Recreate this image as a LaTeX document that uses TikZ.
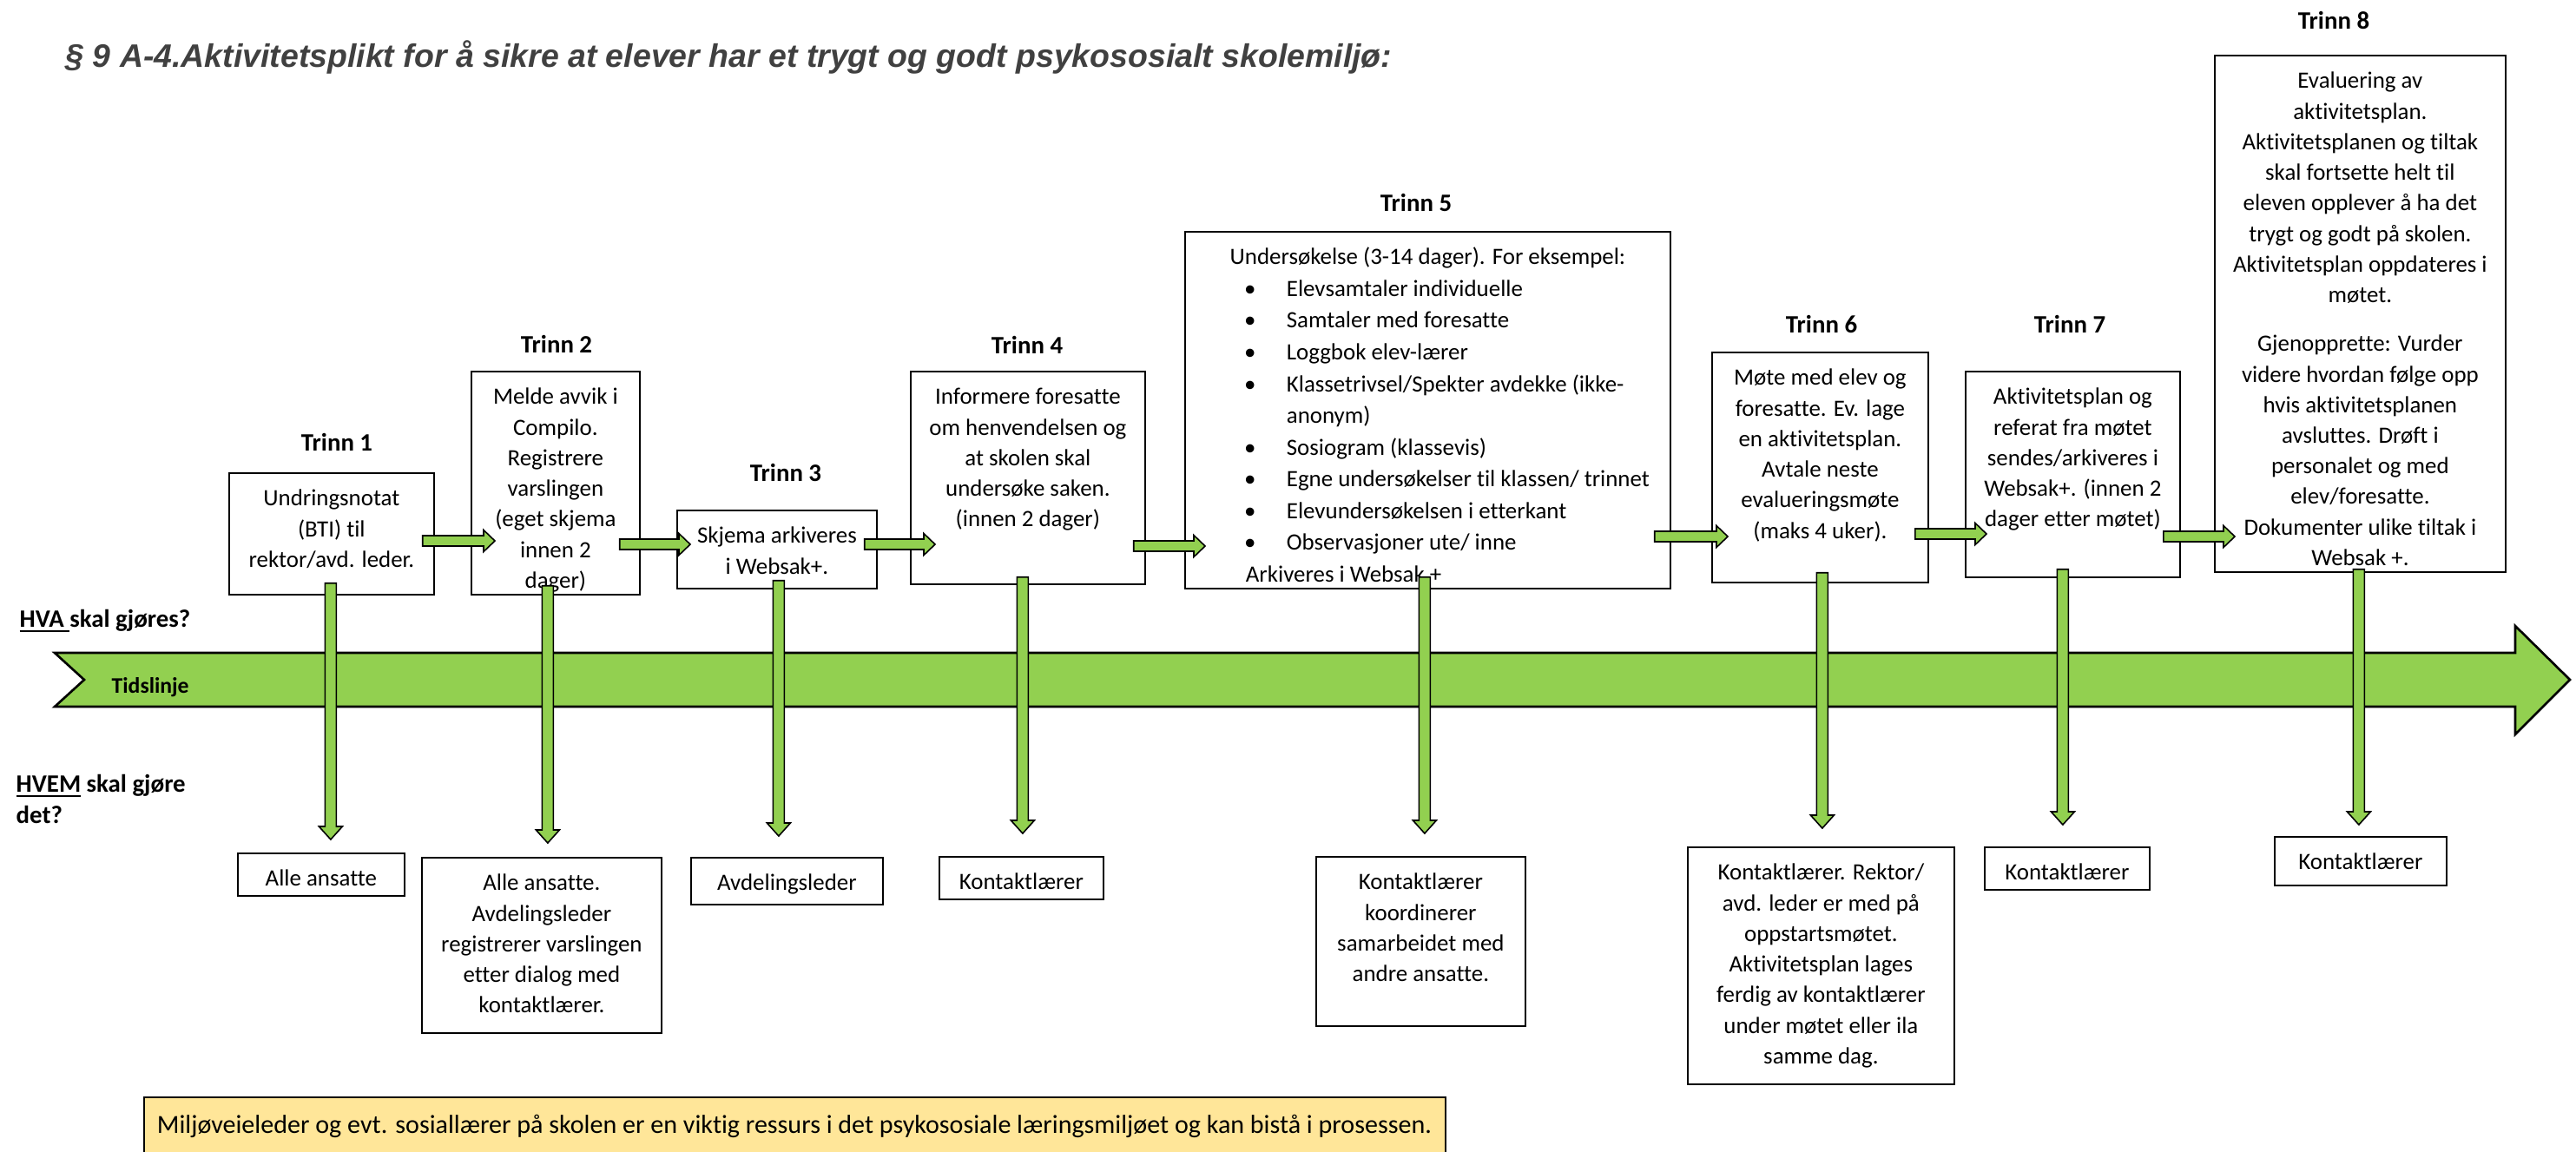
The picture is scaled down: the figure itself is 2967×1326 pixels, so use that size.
\documentclass[tikz,border=0pt]{standalone}
\usepackage{fontspec}
\setmainfont{Carlito}[Ligatures={TeX,NoCommon}]
\newfontfamily\titlefont{Liberation Sans}
\usetikzlibrary{calc}

\definecolor{tlgreen}{HTML}{92D050}
\definecolor{noteyellow}{HTML}{FFE699}
\definecolor{titlegray}{HTML}{404040}

% one drawing unit = 0.01cm
\newlength\pxu \setlength\pxu{0.01cm}
% top-aligned, centred text block of given width and height (in drawing units)
\newcommand\boxtext[3]{\parbox[c][#2\pxu][t]{#1\pxu}{\centering\rule{0pt}{38\pxu}#3}}
% bulleted line inside the investigation box
\newcommand\bitem[1]{\hspace*{75\pxu}\makebox[0pt][c]{\textbullet}\hspace*{42\pxu}#1}

\tikzset{
  stepbox/.style={draw=black, line width=0.5pt, fill=white, inner sep=0pt, anchor=north west,
    font=\fontsize{7.65}{10.02}\selectfont},
  trinn/.style={inner sep=0pt, font=\bfseries\fontsize{8.2}{10}\selectfont},
  sidelabel/.style={inner sep=0pt, anchor=base west, font=\bfseries\fontsize{8.2}{10.5}\selectfont},
  timeline/.style={fill=tlgreen, draw=black, line width=0.75pt, line join=miter},
  fat/.style n args={3}{fill=tlgreen, draw=black, line width=0.45pt, line join=miter,
    to path={
      ($(\tikztotarget)!#3!(\tikztostart)$) coordinate (fahead)
      ($(\tikztostart)!#1!90:(\tikztotarget)$) -- ($(fahead)!#1!90:(\tikztotarget)$)
      -- ($(fahead)!#2!90:(\tikztotarget)$) -- (\tikztotarget)
      -- ($(fahead)!#2!-90:(\tikztotarget)$) -- ($(fahead)!#1!-90:(\tikztotarget)$)
      -- ($(\tikztostart)!#1!-90:(\tikztotarget)$) -- cycle}},
  harrow/.style={fat={0.06cm}{0.125cm}{0.13cm}},
  varrow/.style={fat={0.065cm}{0.135cm}{0.15cm}}
}

\begin{document}
\begin{tikzpicture}[x=0.01cm, y=-0.01cm]
\useasboundingbox (0,0) rectangle (2967,1326);

% heading
\node[anchor=base west, inner sep=0pt, text=titlegray,
  font=\titlefont\bfseries\itshape\fontsize{10.65}{12}\selectfont] (title) at (75,77)
  {§ 9 A-4.Aktivitetsplikt for å sikre at elever har et trygt og godt psykososialt skolemiljø:};

% time line band
\draw[timeline] (63,752) -- (2897,752) -- (2897,721) -- (2960,783) -- (2897,846)
  -- (2897,814) -- (63,814) -- (97,783) -- cycle;
\node[inner sep=0pt, anchor=base west, font=\bfseries\fontsize{7.3}{9}\selectfont] (tl) at (128,798) {Tidslinje};

% side questions
\node[sidelabel] (hva) at (22,722) {\underline{HVA\ }skal gjøres?};
\node[sidelabel] (hvem) at (18,912) {\parbox[t]{200\pxu}{\raggedright\underline{HVEM} skal gjøre\\det?}};

% step headings
\node[trinn] (t1) at (388,509) {Trinn 1};
\node[trinn] (t2) at (641,396) {Trinn 2};
\node[trinn] (t3) at (905,544) {Trinn 3};
\node[trinn] (t4) at (1183,397) {Trinn 4};
\node[trinn] (t5) at (1631,233) {Trinn 5};
\node[trinn] (t6) at (2098,373) {Trinn 6};
\node[trinn] (t7) at (2384,373) {Trinn 7};
\node[trinn] (t8) at (2688,23) {Trinn 8};

% what is to be done
\node[stepbox] (b1) at (263,544) {\boxtext{236}{140}{Undringsnotat\\(BTI) til\\rektor/avd. leder.}};
\node[stepbox] (b2) at (542,427) {\boxtext{194}{257}{Melde avvik i\\Compilo.\\Registrere\\varslingen\\(eget skjema\\innen 2\\dager)}};
\node[stepbox] (b3) at (779,587) {\boxtext{230}{90}{Skjema arkiveres\\i Websak+.}};
\node[stepbox] (b4) at (1048,427) {\boxtext{270}{245}{Informere foresatte\\om henvendelsen og\\at skolen skal\\undersøke saken.\\(innen 2 dager)}};
\node[stepbox, font=\fontsize{7.65}{10.39}\selectfont] (b5) at (1364,266) {\parbox[c][411\pxu][t]{559\pxu}{\raggedright\rule{0pt}{38\pxu}%
  \makebox[\linewidth][c]{Undersøkelse (3-14 dager). For eksempel:}\\
  \bitem{Elevsamtaler individuelle}\\
  \bitem{Samtaler med foresatte}\\
  \bitem{Loggbok elev-lærer}\\
  \bitem{Klassetrivsel/Spekter avdekke (ikke-}\\
  \hspace*{117\pxu}anonym)\\
  \bitem{Sosiogram (klassevis)}\\
  \bitem{Egne undersøkelser til klassen/ trinnet}\\
  \bitem{Elevundersøkelsen i etterkant}\\
  \bitem{Observasjoner ute/ inne}\\
  \hspace*{70\pxu}Arkiveres i Websak +}};
\node[stepbox] (b6) at (1971,405) {\boxtext{249}{265}{Møte med elev og\\foresatte. Ev. lage\\en aktivitetsplan.\\Avtale neste\\evalueringsmøte\\(maks 4 uker).}};
\node[stepbox] (b7) at (2263,427) {\boxtext{247}{237}{Aktivitetsplan og\\referat fra møtet\\sendes/arkiveres i\\Websak+. (innen 2\\dager etter møtet)}};
\node[stepbox] (b8) at (2550,63) {\boxtext{335}{595}{Evaluering av\\aktivitetsplan.\\Aktivitetsplanen og tiltak\\skal fortsette helt til\\eleven opplever å ha det\\trygt og godt på skolen.\\Aktivitetsplan oppdateres i\\møtet.\par\vspace{21\pxu}%
  Gjenopprette: Vurder\\videre hvordan følge opp\\hvis aktivitetsplanen\\avsluttes. Drøft i\\personalet og med\\elev/foresatte.\\Dokumenter ulike tiltak i\\Websak +.}};

% who does it
\node[stepbox] (w1) at (273,982) {\boxtext{192}{49}{Alle ansatte}};
\node[stepbox] (w2) at (485,987) {\boxtext{276}{202}{Alle ansatte.\\Avdelingsleder\\registrerer varslingen\\etter dialog med\\kontaktlærer.}};
\node[stepbox] (w3) at (795,987) {\boxtext{221}{54}{Avdelingsleder}};
\node[stepbox] (w4) at (1081,986) {\boxtext{189}{49}{Kontaktlærer}};
\node[stepbox] (w5) at (1515,986) {\boxtext{241}{195}{Kontaktlærer\\koordinerer\\samarbeidet med\\andre ansatte.}};
\node[stepbox] (w6) at (1943,975) {\boxtext{307}{273}{Kontaktlærer. Rektor/\\avd. leder er med på\\oppstartsmøtet.\\Aktivitetsplan lages\\ferdig av kontaktlærer\\under møtet eller ila\\samme dag.}};
\node[stepbox] (w7) at (2285,975) {\boxtext{190}{49}{Kontaktlærer}};
\node[stepbox] (w8) at (2619,963) {\boxtext{198}{56}{Kontaktlærer}};

% note at the bottom
\begin{scope}
\clip (0,0) rectangle (2967,1326);
\node[stepbox, fill=noteyellow, font=\fontsize{8.55}{11}\selectfont] (note) at (165,1263)
  {\parbox[c][90\pxu][t]{1499\pxu}{\raggedright\rule{0pt}{42\pxu}\hspace*{15\pxu}Miljøveieleder og evt. sosiallærer på skolen er en viktig ressurs i det psykososiale læringsmiljøet og kan bistå i prosessen.}};
\end{scope}

% step-to-step arrows
\coordinate (r1) at (0,623);
\coordinate (r2) at (0,627);
\coordinate (r3) at (0,627);
\coordinate (r4) at (0,629);
\coordinate (r5) at (0,618);
\coordinate (r6) at (0,615);
\coordinate (r7) at (0,618);
\draw[harrow] ($(b1.east |- r1)+(-14,0)$) to ($(b2.west |- r1)+(28,0)$);
\draw[harrow] ($(b2.east |- r2)+(-24,0)$) to ($(b3.west |- r2)+(16,0)$);
\draw[harrow] ($(b3.east |- r3)+(-15,0)$) to ($(b4.west |- r3)+(29,0)$);
\draw[harrow] ($(b4.east |- r4)+(-14,0)$) to ($(b5.west |- r4)+(24,0)$);
\draw[harrow] ($(b5.east |- r5)+(-19,0)$) to ($(b6.west |- r5)+(19,0)$);
\draw[harrow] ($(b6.east |- r6)+(-16,0)$) to ($(b7.west |- r6)+(25,0)$);
\draw[harrow] ($(b7.east |- r7)+(-20,0)$) to ($(b8.west |- r7)+(24,0)$);

% what-to-who arrows across the time line
\draw[varrow] ($(b1.south)+(-1,-14)$) to ($(b1.south |- w1.north)+(-1,-15)$);
\draw[varrow] ($(b2.south)+(-9,-11)$) to ($(b2.south |- w2.north)+(-9,-16)$);
\draw[varrow] ($(b3.south)+(2,-10)$) to ($(b3.south |- w3.north)+(2,-24)$);
\draw[varrow] ($(b4.south)+(-6,-9)$) to ($(b4.south |- w4.north)+(-6,-26)$);
\draw[varrow] ($(b5.south)+(-3.5,-14)$) to ($(b5.south |- w5.north)+(-3.5,-26)$);
\draw[varrow] ($(b6.south)+(2.5,-12)$) to ($(b6.south |- w6.north)+(2.5,-21)$);
\draw[varrow] ($(b7.south)+(-11.5,-10)$) to ($(b7.south |- w7.north)+(-11.5,-25)$);
\draw[varrow] ($(b8.south)+(-1.5,-4)$) to ($(b8.south |- w8.north)+(-1.5,-13)$);
\end{tikzpicture}
\end{document}
